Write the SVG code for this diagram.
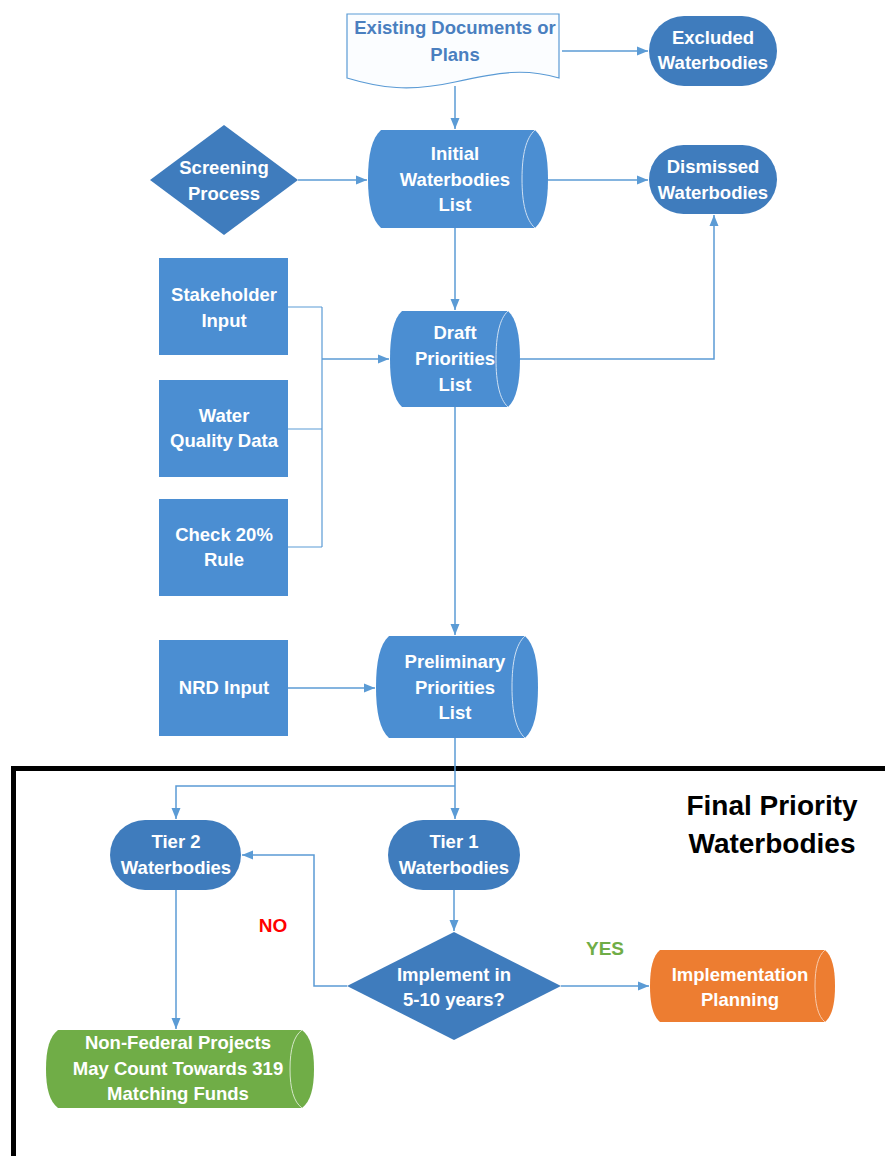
<svg xmlns="http://www.w3.org/2000/svg" width="885" height="1156" viewBox="0 0 885 1156">
<defs>
<marker id="arr" markerUnits="userSpaceOnUse" markerWidth="12" markerHeight="12" viewBox="0 0 12 12" refX="11" refY="6" orient="auto">
<path d="M0,1.5 L11,6 L0,10.5 Z" fill="#5b9bd5"/>
</marker>
<style>
.t{font-family:"Liberation Sans",Arial,sans-serif;font-weight:bold;font-size:18.5px;fill:#ffffff;text-anchor:middle}
.dt{fill:#4a7fbf}
.rect{fill:#4b8ed2}
.cyl{fill:#4b8ed2}
.dark{fill:#3f7cbd}
.arc{fill:none;stroke:#cfe0f2;stroke-width:1}
.c{fill:none;stroke:#5b9bd5;stroke-width:1.5}
.thin{fill:none;stroke:#5b9bd5;stroke-width:1.2}
.big{font-family:"Liberation Sans",Arial,sans-serif;font-weight:bold;font-size:28px;fill:#000000;text-anchor:middle}
</style>
</defs>
<rect width="885" height="1156" fill="#ffffff"/>

<g id="frame">
<path d="M13.5,1156 V768.5 H885" fill="none" stroke="#000000" stroke-width="5"/>
<text class="big" x="772" y="815">Final Priority</text>
<text class="big" x="772" y="853">Waterbodies</text>
</g>

<g id="connectors">
<path class="c" d="M562,51 H648" marker-end="url(#arr)"/>
<path class="c" d="M455,86 V129" marker-end="url(#arr)"/>
<path class="c" d="M298,180 H367" marker-end="url(#arr)"/>
<path class="c" d="M548,180 H648" marker-end="url(#arr)"/>
<path class="c" d="M455,228 V310" marker-end="url(#arr)"/>
<path class="c" d="M520,359 H714 V215" marker-end="url(#arr)"/>
<path class="thin" d="M288,307 H322 M288,429 H322 M288,547 H322 M322,307 V547"/>
<path class="c" d="M322,359 H389" marker-end="url(#arr)"/>
<path class="c" d="M455,407 V635" marker-end="url(#arr)"/>
<path class="c" d="M288,688 H375" marker-end="url(#arr)"/>
<path class="c" d="M455,738 V819" marker-end="url(#arr)"/>
<path class="c" d="M455,786 H176 V819" marker-end="url(#arr)"/>
<path class="c" d="M454,890 V931" marker-end="url(#arr)"/>
<path class="c" d="M347,986 H314 V855 H242" marker-end="url(#arr)"/>
<path class="c" d="M561,986 H649" marker-end="url(#arr)"/>
<path class="c" d="M176,890 V1029" marker-end="url(#arr)"/>
</g>

<g id="existing-docs">
<path d="M347,14 H559 V78 C525,68 500,72 455,82 C410,92 380,88 347,78 Z" fill="#fbfdff" stroke="#5b9bd5" stroke-width="1.2"/>
<text class="t dt" x="455" y="34">Existing Documents or</text>
<text class="t dt" x="455" y="61">Plans</text>
</g>

<g id="excluded">
<rect class="dark" x="649" y="16" width="128" height="70" rx="35"/>
<text class="t" x="713" y="44">Excluded</text>
<text class="t" x="713" y="69">Waterbodies</text>
</g>

<g id="screening">
<polygon class="dark" points="224,125 298,180 224,235 150,180"/>
<text class="t" x="224" y="174">Screening</text>
<text class="t" x="224" y="200">Process</text>
</g>

<g id="initial">
<path class="cyl" d="M381,130 H535 C544,138 548,154.5 548,179 C548,203.5 544,220 535,228 H381 C372,220 368,203.5 368,179 C368,154.5 372,138 381,130 Z"/>
<path class="arc" d="M535,130 C526,138 522,154.5 522,179 C522,203.5 526,220 535,228"/>
<text class="t" x="455" y="160">Initial</text>
<text class="t" x="455" y="186">Waterbodies</text>
<text class="t" x="455" y="211">List</text>
</g>

<g id="dismissed">
<rect class="dark" x="649" y="145" width="128" height="69" rx="34.5"/>
<text class="t" x="713" y="173">Dismissed</text>
<text class="t" x="713" y="199">Waterbodies</text>
</g>

<g id="stakeholder">
<rect class="rect" x="159" y="258" width="129" height="97"/>
<text class="t" x="224" y="301">Stakeholder</text>
<text class="t" x="224" y="327">Input</text>
</g>

<g id="water-quality">
<rect class="rect" x="159" y="380" width="129" height="97"/>
<text class="t" x="224" y="422">Water</text>
<text class="t" x="224" y="447">Quality Data</text>
</g>

<g id="check20">
<rect class="rect" x="159" y="499" width="129" height="97"/>
<text class="t" x="224" y="541">Check 20%</text>
<text class="t" x="224" y="566">Rule</text>
</g>

<g id="draft">
<path class="cyl" d="M402,311 H508 C516.4,318.7 520,335 520,359 C520,383 516.4,399.3 508,407 H402 C393.6,399.3 390,383 390,359 C390,335 393.6,318.7 402,311 Z"/>
<path class="arc" d="M508,311 C499.6,318.7 496,335 496,359 C496,383 499.6,399.3 508,407"/>
<text class="t" x="455" y="339">Draft</text>
<text class="t" x="455" y="365">Priorities</text>
<text class="t" x="455" y="391">List</text>
</g>

<g id="nrd">
<rect class="rect" x="159" y="640" width="129" height="96"/>
<text class="t" x="224" y="694">NRD Input</text>
</g>

<g id="preliminary">
<path class="cyl" d="M389,636 H525 C534.1,644.2 538,661.5 538,687 C538,712.5 534.1,729.8 525,738 H389 C379.9,729.8 376,712.5 376,687 C376,661.5 379.9,644.2 389,636 Z"/>
<path class="arc" d="M525,636 C515.9,644.2 512,661.5 512,687 C512,712.5 515.9,729.8 525,738"/>
<text class="t" x="455" y="668">Preliminary</text>
<text class="t" x="455" y="694">Priorities</text>
<text class="t" x="455" y="719">List</text>
</g>

<g id="tier2">
<rect class="dark" x="110" y="820" width="131" height="70" rx="35"/>
<text class="t" x="176" y="848">Tier 2</text>
<text class="t" x="176" y="874">Waterbodies</text>
</g>

<g id="tier1">
<rect class="dark" x="388" y="820" width="132" height="70" rx="35"/>
<text class="t" x="454" y="848">Tier 1</text>
<text class="t" x="454" y="874">Waterbodies</text>
</g>

<g id="decision">
<polygon class="dark" points="454,932 561,986 454,1040 347,986"/>
<text class="t" x="454" y="981">Implement in</text>
<text class="t" x="454" y="1006">5-10 years?</text>
</g>

<g id="labels">
<text x="273" y="932" style="font-family:'Liberation Sans',Arial,sans-serif;font-weight:bold;font-size:19px;fill:#ff0000;text-anchor:middle">NO</text>
<text x="605" y="955" style="font-family:'Liberation Sans',Arial,sans-serif;font-weight:bold;font-size:19px;fill:#70ad47;text-anchor:middle">YES</text>
</g>

<g id="implementation">
<path d="M660,950 H825 C832,955.8 835,968 835,986 C835,1004 832,1016.2 825,1022 H660 C653,1016.2 650,1004 650,986 C650,968 653,955.8 660,950 Z" fill="#ed7d31"/>
<path d="M825,950 C818,955.8 815,968 815,986 C815,1004 818,1016.2 825,1022" fill="none" stroke="#f8cbad" stroke-width="1"/>
<text class="t" x="740" y="981">Implementation</text>
<text class="t" x="740" y="1006">Planning</text>
</g>

<g id="non-federal">
<path d="M58,1030 H302 C310.4,1036.2 314,1049.5 314,1069 C314,1088.5 310.4,1101.8 302,1108 H58 C49.6,1101.8 46,1088.5 46,1069 C46,1049.5 49.6,1036.2 58,1030 Z" fill="#70ad47"/>
<path d="M302,1030 C293.6,1036.2 290,1049.5 290,1069 C290,1088.5 293.6,1101.8 302,1108" fill="none" stroke="#d5e8c8" stroke-width="1"/>
<text class="t" x="178" y="1049">Non-Federal Projects</text>
<text class="t" x="178" y="1075">May Count Towards 319</text>
<text class="t" x="178" y="1100">Matching Funds</text>
</g>
</svg>
